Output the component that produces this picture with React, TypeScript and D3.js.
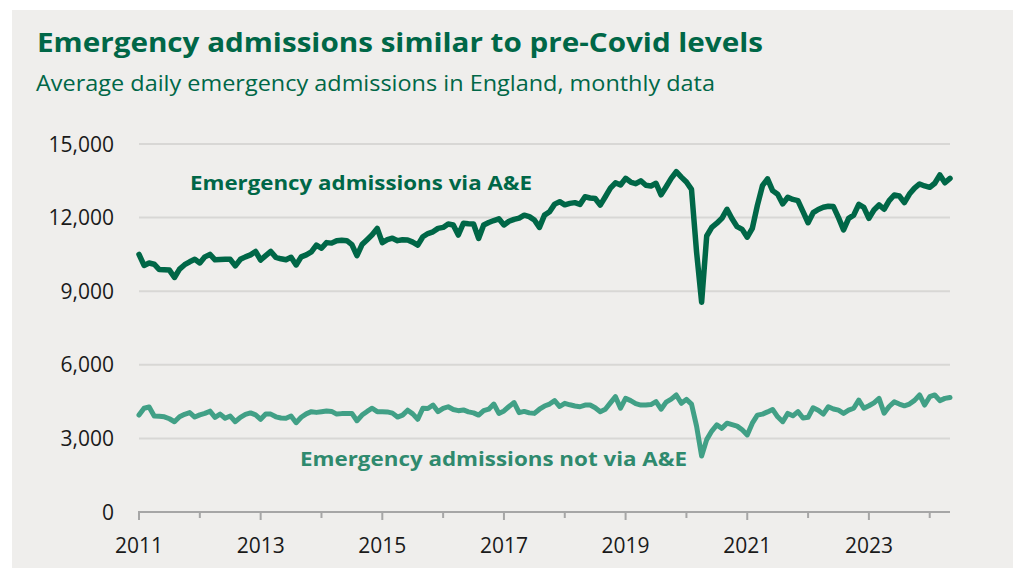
import React from "react";
import * as d3 from "d3";

// Monthly data, Jan 2011 – May 2024
const startYear = 2011;
const viaAE: number[] = [
  10500, 10050, 10150, 10100, 9880, 9870, 9860, 9560, 9900, 10080, 10200, 10300,
  10150, 10400, 10500, 10280, 10290, 10300, 10300, 10030, 10300, 10400, 10480, 10620,
  10270, 10450, 10620, 10380, 10320, 10280, 10380, 10070, 10400, 10480, 10600, 10880,
  10750, 10980, 10960, 11060, 11080, 11060, 10900, 10450, 10900, 11100, 11300, 11560,
  10980, 11100, 11160, 11060, 11100, 11090, 11000, 10880, 11220, 11350, 11420, 11560,
  11600, 11740, 11700, 11290, 11770, 11750, 11740, 11150, 11700, 11800, 11880, 11950,
  11700, 11850, 11930, 11980, 12100, 12040, 11900, 11600, 12100, 12240, 12550, 12650,
  12520, 12580, 12610, 12540, 12850, 12800, 12780, 12510, 12850, 13200, 13420, 13330,
  13600, 13450, 13380, 13500, 13320, 13290, 13400, 12930, 13260, 13600, 13870, 13650,
  13450, 13150, 10600, 8550, 11250, 11600, 11770, 11970, 12340, 11950, 11630, 11520,
  11200, 11560, 12500, 13300, 13580, 13100, 12950, 12560, 12830, 12740, 12690, 12240,
  11790, 12200, 12330, 12420, 12460, 12450, 12000, 11500, 11970, 12100, 12540, 12420,
  11970, 12310, 12515, 12340, 12690, 12920, 12880, 12610, 12960, 13200, 13370, 13290,
  13235, 13400, 13740, 13420, 13600,
];
const notViaAE: number[] = [
  3950, 4230, 4280, 3910, 3900, 3880, 3800, 3680, 3880, 3980, 4050, 3870,
  3960, 4020, 4110, 3860, 3990, 3820, 3910, 3680, 3860, 3980, 4040, 3960,
  3780, 3990, 3990, 3880, 3830, 3820, 3910, 3640, 3860, 4000, 4090, 4060,
  4090, 4120, 4100, 3990, 4010, 4020, 4020, 3720, 3950, 4100, 4230, 4090,
  4090, 4080, 4030, 3870, 3950, 4150, 4000, 3780, 4230, 4220, 4360, 4090,
  4220, 4290, 4180, 4130, 4160, 4080, 4040, 3950, 4130, 4190, 4400, 4020,
  4120, 4300, 4460, 4050, 4100, 4040, 4020, 4190, 4320, 4400, 4540, 4300,
  4430, 4370, 4320, 4290, 4360, 4360, 4250, 4090, 4190, 4450, 4700, 4230,
  4630, 4540, 4420, 4360, 4360, 4380, 4500, 4190, 4480, 4600, 4770, 4430,
  4590, 4400, 3500, 2280, 2950, 3300, 3550, 3410, 3620, 3560, 3500, 3350,
  3140, 3620, 3950, 3990, 4080, 4180, 3880, 3680, 4020, 3920, 4090, 3830,
  3860, 4250, 4150, 3990, 4290, 4200, 4150, 4020, 4150, 4230, 4560, 4230,
  4330, 4450, 4630, 4030, 4300, 4490, 4400, 4330, 4400, 4550, 4770, 4360,
  4700, 4770, 4540, 4630, 4670,
];
const yTicks: number[] = [0, 3000, 6000, 9000, 12000, 15000];
const xTickYears: number[] = [2011, 2012, 2013, 2014, 2015, 2016, 2017, 2018, 2019, 2020, 2021, 2022, 2023, 2024];
const xLabelYears: number[] = [2011, 2013, 2015, 2017, 2019, 2021, 2023];

const title = "Emergency admissions similar to pre-Covid levels";
const subtitle = "Average daily emergency admissions in England, monthly data";
const labelVia = "Emergency admissions via A&E";
const labelNot = "Emergency admissions not via A&E";

const W = 1013;
const H = 572;
const darkGreen = "#006747";
const teal = "#41a086";
const tealText = "#2f8a6e";
const font = "'Open Sans', 'Noto Sans', sans-serif";

export default function App() {
  const n = viaAE.length;
  const x = d3.scaleLinear().domain([0, n - 1]).range([139, 950]);
  const y = d3.scaleLinear().domain([0, 15000]).range([512, 144]);
  const xYear = (yr: number) => x((yr - startYear) * 12);

  const line = d3
    .line<number>()
    .x((_, i) => x(i))
    .y((d) => y(d))
    .curve(d3.curveLinear);

  return (
    <svg
      width={W}
      height={H}
      viewBox={`0 0 ${W} ${H}`}
      style={{ position: "absolute", left: 0, top: 0, background: "#ffffff" }}
    >
      <rect x={12} y={10} width={W - 12} height={558} fill="#efeeec" />
      <text x={37} y={52} fontFamily={font} fontWeight={700} fontSize={27} fill={darkGreen} textLength={726} lengthAdjust="spacingAndGlyphs">
        {title}
      </text>
      <text x={36} y={91} fontFamily={font} fontSize={21.5} fill={darkGreen} textLength={679} lengthAdjust="spacingAndGlyphs">
        {subtitle}
      </text>

      {/* gridlines */}
      {yTicks.filter((t) => t > 0).map((t) => (
        <line key={t} x1={139} x2={950} y1={y(t)} y2={y(t)} stroke="#d8d7d5" strokeWidth={2} />
      ))}
      {/* y labels */}
      {yTicks.map((t) => (
        <text key={t} x={114} y={y(t)} dy="0.36em" textAnchor="end" fontFamily={font} fontSize={21} fill="#1a1a1a">
          {d3.format(",")(t)}
        </text>
      ))}
      {/* x axis */}
      <line x1={138} x2={950} y1={512} y2={512} stroke="#a6a6a6" strokeWidth={2} />
      {xTickYears.map((yr) => (
        <line
          key={yr}
          x1={xYear(yr)}
          x2={xYear(yr)}
          y1={512}
          y2={xLabelYears.includes(yr) ? 520 : 518}
          stroke="#a6a6a6"
          strokeWidth={2}
        />
      ))}
      {xLabelYears.map((yr) => (
        <text key={yr} x={xYear(yr)} y={553} textAnchor="middle" fontFamily={font} fontSize={21} fill="#1a1a1a">
          {yr}
        </text>
      ))}

      {/* lines */}
      <path d={line(notViaAE) ?? ""} fill="none" stroke={teal} strokeWidth={5} strokeLinejoin="round" strokeLinecap="round" />
      <path d={line(viaAE) ?? ""} fill="none" stroke={darkGreen} strokeWidth={5.5} strokeLinejoin="round" strokeLinecap="round" />

      <text x={190} y={190} fontFamily={font} fontWeight={700} fontSize={20} fill={darkGreen} textLength={342} lengthAdjust="spacingAndGlyphs">
        {labelVia}
      </text>
      <text x={300} y={466} fontFamily={font} fontWeight={700} fontSize={20} fill={tealText} textLength={387} lengthAdjust="spacingAndGlyphs">
        {labelNot}
      </text>
    </svg>
  );
}
